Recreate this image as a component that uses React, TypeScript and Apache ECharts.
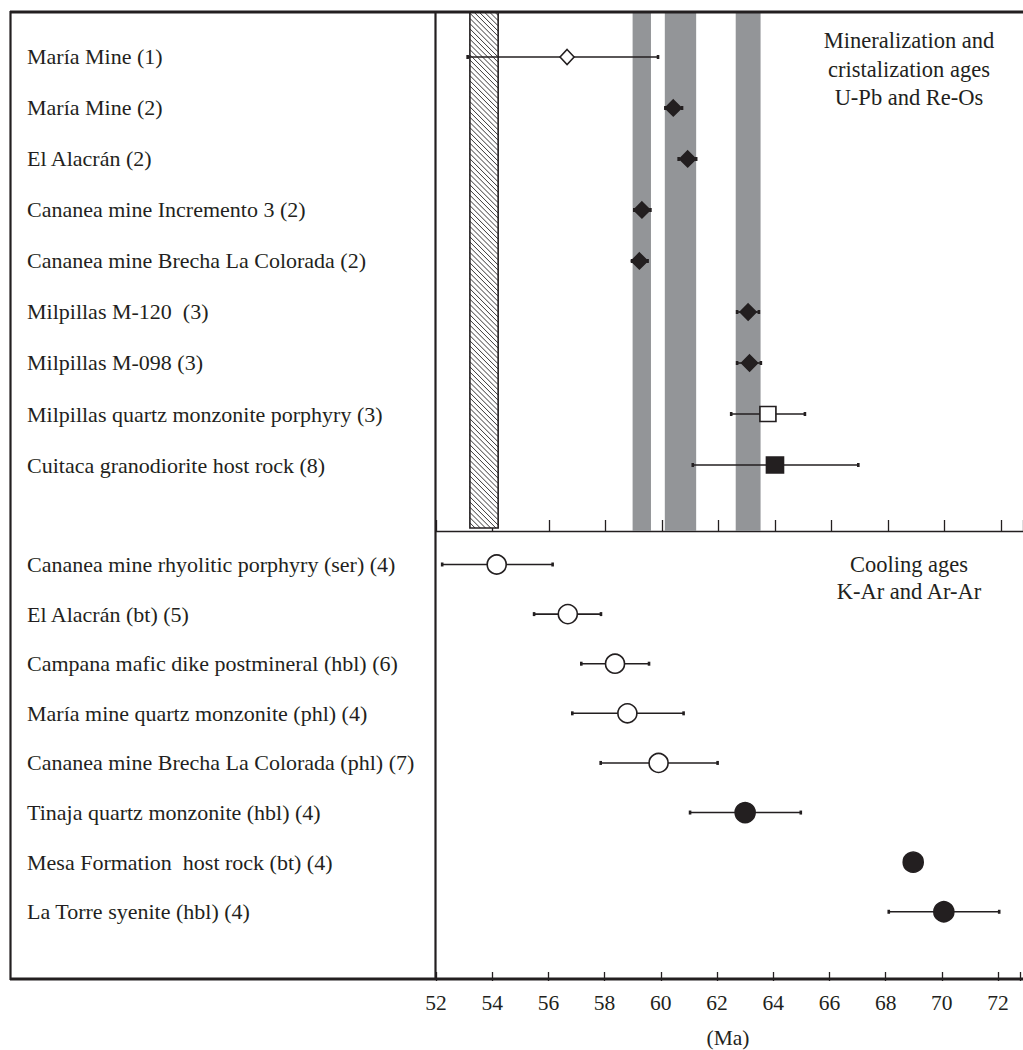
import React, { useEffect, useRef } from "react";
import * as echarts from "echarts";

const INK = "#231f20";
const GRAY = "#939598";
const FONT = '"Liberation Serif", "Times New Roman", serif';

// ---- Top panel: mineralization and crystallization ages (U-Pb, Re-Os) ----
const topLabels = [
  "María Mine (1)",
  "María Mine (2)",
  "El Alacrán (2)",
  "Cananea mine Incremento 3 (2)",
  "Cananea mine Brecha La Colorada (2)",
  "Milpillas M-120  (3)",
  "Milpillas M-098 (3)",
  "Milpillas quartz monzonite porphyry (3)",
  "Cuitaca granodiorite host rock (8)",
];
const topAges = [56.64, 60.4, 60.91, 59.29, 59.2, 63.05, 63.1, 63.75, 64.0];
const topLow = [53.12, 60.12, 60.59, 59.02, 58.94, 62.66, 62.66, 62.45, 61.09];
const topHigh = [59.86, 60.71, 61.21, 59.59, 59.49, 63.43, 63.5, 65.06, 66.95];
const topMarker = [
  "openDiamond",
  "diamond",
  "diamond",
  "diamond",
  "diamond",
  "diamond",
  "diamond",
  "openSquare",
  "square",
];

// ---- Bottom panel: cooling ages (K-Ar, Ar-Ar) ----
const bottomLabels = [
  "Cananea mine rhyolitic porphyry (ser) (4)",
  "El Alacrán (bt) (5)",
  "Campana mafic dike postmineral (hbl) (6)",
  "María mine quartz monzonite (phl) (4)",
  "Cananea mine Brecha La Colorada (phl) (7)",
  "Tinaja quartz monzonite (hbl) (4)",
  "Mesa Formation  host rock (bt) (4)",
  "La Torre syenite (hbl) (4)",
];
const bottomAges = [54.16, 56.69, 58.37, 58.81, 59.92, 63.0, 68.98, 70.07];
const bottomLow = [52.22, 55.49, 57.17, 56.85, 57.86, 61.04, null, 68.11];
const bottomHigh = [56.15, 57.87, 59.58, 60.81, 62.02, 64.98, null, 72.04];
const bottomMarker = [
  "openCircle",
  "openCircle",
  "openCircle",
  "openCircle",
  "openCircle",
  "circle",
  "circle",
  "circle",
];

// shaded age ranges (Ma)
const grayBands = [
  [58.96, 59.61],
  [60.1, 61.21],
  [62.61, 63.49],
];
const hatchBand = [53.2, 54.2];

const xMin = 52;
const xMax = 72.78;
const xInterval = 2;

const markerStyles: Record<string, any> = {
  openDiamond: { symbol: "diamond", size: [14, 15], fill: "#ffffff" },
  diamond: { symbol: "diamond", size: [16, 16], fill: INK },
  openSquare: { symbol: "rect", size: [16, 15], fill: "#ffffff" },
  square: { symbol: "rect", size: [17, 16], fill: INK },
  openCircle: { symbol: "circle", size: 19, fill: "#ffffff" },
  circle: { symbol: "circle", size: 20, fill: INK },
};

function errRender(params: any, api: any) {
  const lo = api.coord([api.value(0), api.value(2)]);
  const hi = api.coord([api.value(1), api.value(2)]);
  const capStyle = { stroke: INK, lineWidth: 2.6 };
  return {
    type: "group",
    children: [
      {
        type: "line",
        shape: { x1: lo[0], y1: lo[1], x2: hi[0], y2: hi[1] },
        style: { stroke: INK, lineWidth: 1.6 },
      },
      {
        type: "line",
        shape: { x1: lo[0], y1: lo[1] - 2, x2: lo[0], y2: lo[1] + 2 },
        style: capStyle,
      },
      {
        type: "line",
        shape: { x1: hi[0], y1: hi[1] - 2, x2: hi[0], y2: hi[1] + 2 },
        style: capStyle,
      },
    ],
  };
}

function hatchRender(params: any, api: any) {
  const cs = params.coordSys;
  const x0 = api.coord([api.value(0), 0])[0];
  const x1 = api.coord([api.value(1), 0])[0];
  const y0 = cs.y;
  const y1 = cs.y + cs.height - 3;
  const children: any[] = [
    {
      type: "rect",
      shape: { x: x0, y: y0, width: x1 - x0, height: y1 - y0 },
      style: { fill: "#ffffff" },
    },
  ];
  const step = 5.2;
  for (let c = x0 - (y1 - y0); c < x1; c += step) {
    const ya = Math.max(y0, y0 + x0 - c);
    const yb = Math.min(y1, y0 + x1 - c);
    if (ya < yb) {
      children.push({
        type: "line",
        shape: { x1: c + ya - y0, y1: ya, x2: c + yb - y0, y2: yb },
        style: { stroke: INK, lineWidth: 0.9 },
      });
    }
  }
  children.push({
    type: "rect",
    shape: { x: x0, y: y0, width: x1 - x0, height: y1 - y0 },
    style: { fill: "none", stroke: INK, lineWidth: 1.6 },
  });
  return { type: "group", children };
}

function scatterSeries(
  ages: number[],
  markers: string[],
  axisIdx: number
): any[] {
  const kinds = Array.from(new Set(markers));
  return kinds.map((k) => {
    const st = markerStyles[k];
    return {
      type: "scatter",
      xAxisIndex: axisIdx,
      yAxisIndex: axisIdx,
      symbol: st.symbol,
      symbolSize: st.size,
      z: 5,
      itemStyle: { color: st.fill, borderColor: INK, borderWidth: 1.6, opacity: 1 },
      data: ages
        .map((a, i) => (markers[i] === k ? [a, i] : null))
        .filter((d) => d !== null),
    };
  });
}

function errData(low: (number | null)[], high: (number | null)[]) {
  return low
    .map((l, i) => (l !== null && high[i] !== null ? [l, high[i], i] : null))
    .filter((d) => d !== null);
}

function yAxisFor(labels: string[], min: number, max: number, gridIndex: number) {
  return {
    type: "value",
    gridIndex,
    inverse: true,
    min,
    max,
    axisLine: { show: false, onZero: false },
    axisTick: { show: false },
    splitLine: { show: false },
    axisLabel: {
      customValues: labels.map((_, i) => i),
      formatter: (v: number) => labels[Math.round(v)] ?? "",
      align: "left",
      margin: 409,
      color: INK,
      fontSize: 22,
      fontFamily: FONT,
    },
  };
}

function buildOption(): any {
  return {
    animation: false,
    backgroundColor: "#ffffff",
    grid: [
      { left: 436, right: 0, top: 12, height: 519 },
      { left: 436, right: 0, top: 531, height: 448 },
    ],
    xAxis: [
      {
        type: "value",
        gridIndex: 0,
        position: "bottom",
        min: xMin,
        max: xMax,
        interval: xInterval,
        axisLine: { show: true, onZero: false, lineStyle: { color: INK, width: 1.3 } },
        axisTick: { show: true, inside: true, length: 11, lineStyle: { color: INK, width: 1.3 } },
        axisLabel: { show: false },
        splitLine: { show: false },
      },
      {
        type: "value",
        gridIndex: 1,
        position: "bottom",
        min: xMin,
        max: xMax,
        interval: xInterval,
        name: "(Ma)",
        nameLocation: "middle",
        nameGap: 55,
        nameTextStyle: { color: INK, fontSize: 21.5, fontFamily: FONT },
        axisLine: { show: false, onZero: false },
        axisTick: { show: true, inside: false, length: 9, lineStyle: { color: INK, width: 1.3 } },
        axisLabel: {
          color: INK,
          fontSize: 21.5,
          fontFamily: FONT,
          margin: 20,
          formatter: (v: number) => (v > 72.01 ? "" : String(v)),
        },
        splitLine: { show: false },
      },
    ],
    yAxis: [
      yAxisFor(topLabels, -0.882, 9.294, 0),
      yAxisFor(bottomLabels, -0.675, 8.214, 1),
    ],
    graphic: [
      { type: "line", shape: { x1: 10, y1: 12, x2: 1023, y2: 12 }, style: { stroke: INK, lineWidth: 3 }, z: 100 },
      { type: "line", shape: { x1: 10, y1: 979, x2: 1023, y2: 979 }, style: { stroke: INK, lineWidth: 3 }, z: 100 },
      { type: "line", shape: { x1: 10.5, y1: 11, x2: 10.5, y2: 980 }, style: { stroke: INK, lineWidth: 2.2 }, z: 100 },
      { type: "line", shape: { x1: 435.5, y1: 11, x2: 435.5, y2: 980 }, style: { stroke: INK, lineWidth: 2.2 }, z: 100 },
      ...[
        ["Mineralization and", 40],
        ["cristalization ages", 69],
        ["U-Pb and Re-Os", 97],
        ["Cooling ages", 564],
        ["K-Ar and Ar-Ar", 591],
      ].map(([t, y]) => ({
        type: "text",
        z: 100,
        style: {
          text: t,
          x: 909,
          y,
          fill: INK,
          fontSize: 22.5,
          fontFamily: FONT,
          align: "center",
          verticalAlign: "middle",
        },
      })),
    ],
    series: [
      {
        type: "custom",
        xAxisIndex: 0,
        yAxisIndex: 0,
        renderItem: hatchRender,
        data: [hatchBand],
        z: 1,
        silent: true,
        markArea: {
          silent: true,
          itemStyle: { color: GRAY, opacity: 1 },
          data: grayBands.map(([a, b]) => [{ xAxis: a }, { xAxis: b }]),
        },
      },
      {
        type: "custom",
        xAxisIndex: 0,
        yAxisIndex: 0,
        renderItem: errRender,
        encode: { x: [0, 1], y: 2 },
        data: errData(topLow, topHigh),
        z: 3,
      },
      {
        type: "custom",
        xAxisIndex: 1,
        yAxisIndex: 1,
        renderItem: errRender,
        encode: { x: [0, 1], y: 2 },
        data: errData(bottomLow, bottomHigh),
        z: 3,
      },
      ...scatterSeries(topAges, topMarker, 0),
      ...scatterSeries(bottomAges, bottomMarker, 1),
    ],
  };
}

export default function App() {
  const ref = useRef<HTMLDivElement>(null);
  useEffect(() => {
    if (!ref.current) return;
    const chart = echarts.init(ref.current, undefined, { renderer: "svg" });
    chart.setOption(buildOption());
    return () => chart.dispose();
  }, []);
  return (
    <div
      ref={ref}
      style={{
        position: "fixed",
        left: 0,
        top: 0,
        width: 1023,
        height: 1050,
        background: "#ffffff",
      }}
    />
  );
}
